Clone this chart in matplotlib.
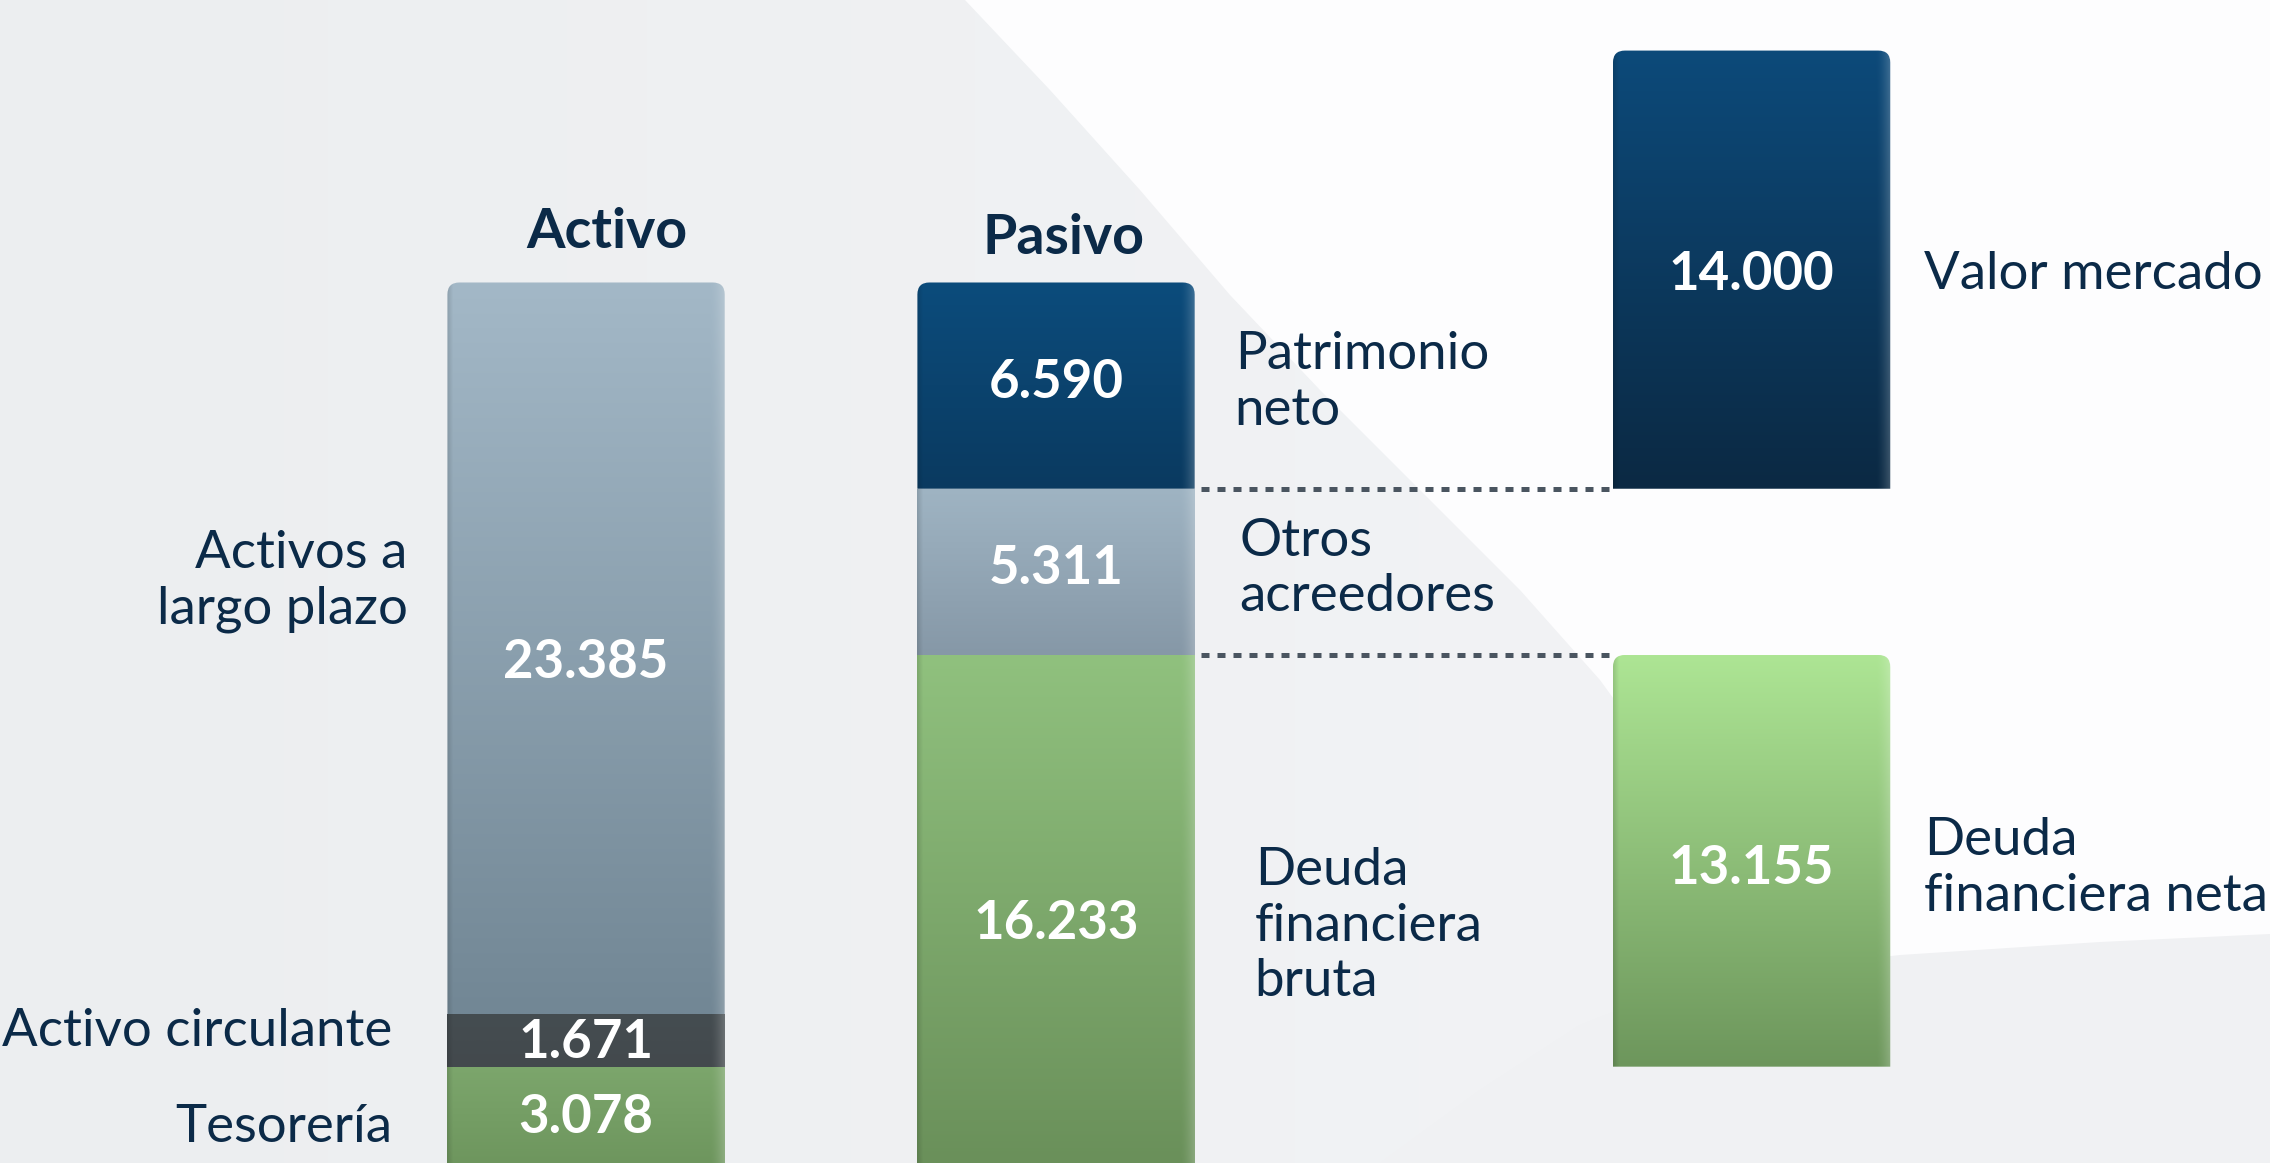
import numpy as np
import matplotlib.pyplot as plt
from matplotlib.path import Path
from matplotlib.patches import PathPatch, Polygon
from matplotlib.colors import to_rgb

plt.rcParams['font.family'] = ['Lato', 'DejaVu Sans']

# datos (millones de euros)
titulos = ['Activo', 'Pasivo']
activo_nombres = ['Tesorería', 'Activo circulante', 'Activos a\nlargo plazo']
activo_valores = [3.078, 1.671, 23.385]
pasivo_nombres = ['Deuda\nfinanciera\nbruta', 'Otros\nacreedores', 'Patrimonio\nneto']
pasivo_valores = [16.233, 5.311, 6.590]
valor_mercado = 14.000
deuda_neta = 13.155
nombre_vm = 'Valor mercado'
nombre_dn = 'Deuda\nfinanciera neta'

# colores (arriba, abajo)
col_activo = [('#7ca66c', '#6e965e'), ('#454d51', '#43494d'), ('#a3b8c7', '#728795')]
col_pasivo = [('#90c17e', '#6a905a'), ('#9fb4c3', '#8698a7'), ('#0c4c7c', '#0a3a60')]
col_vm = ('#0d4a7a', '#0b2943')
col_dn = ('#ade594', '#6d965c')

W, H = 2270, 1163
navy = '#0b2a48'
pos = [0, 1, 2.48]
ancho = 0.59
fs_lab = 38

fig = plt.figure(figsize=(W / 100, H / 100), dpi=100)

# fondo
bg = fig.add_axes([0, 0, 1, 1])
bg.axis('off')
t = np.linspace(0, 1, 256)
c0, c1 = np.array(to_rgb('#eceef0')), np.array(to_rgb('#f4f5f7'))
bg.imshow(c0 + (c1 - c0) * t[None, :, None], extent=(0, W, H, 0), aspect='auto')
blanco = [(965, 0), (1050, 90), (1140, 190), (1230, 295), (1320, 390), (1420, 490),
          (1520, 590), (1600, 680), (1680, 790), (1760, 920), (1840, 1060), (1900, H),
          (W, H), (W, 0)]
bg.add_patch(Polygon(blanco, closed=True, facecolor='#fdfdfe', edgecolor='none'))
gris = [(1380, H), (1480, 1090), (1580, 1025), (1700, 978), (1900, 955), (2100, 942),
        (W, 934), (W, H)]
bg.add_patch(Polygon(gris, closed=True, facecolor='#f0f1f3', edgecolor='none'))
bg.set_xlim(0, W)
bg.set_ylim(H, 0)

ax = fig.add_axes([0, 0, 1, 1])
ax.patch.set_alpha(0)
ax.axis('off')
xlim = (-1.247, 3.583)
ylim = (0, 37.16)
px_x = W / (xlim[1] - xlim[0])
px_y = H / (ylim[1] - ylim[0])


def degradado(arriba, abajo):
    a, b = np.array(to_rgb(arriba)), np.array(to_rgb(abajo))
    v = np.linspace(0, 1, 200)[:, None, None]
    img = a + (b - a) * v
    u = np.linspace(0, 1, 200)[None, :, None]
    luz = np.clip((u - 0.95) / 0.05, 0, 1) ** 1.5 * 0.2
    sombra = np.clip((0.02 - u) / 0.02, 0, 1) * 0.12
    img = img + (1 - img) * luz - img * sombra
    return np.clip(img, 0, 1)


def pinta(rect, colores, redondo):
    x0, y0 = rect.get_x(), rect.get_y()
    w, h = rect.get_width(), rect.get_height()
    rx, ry = 12 / px_x, 12 / px_y
    if redondo:
        verts = [(x0, y0), (x0, y0 + h - ry), (x0, y0 + h), (x0 + rx, y0 + h),
                 (x0 + w - rx, y0 + h), (x0 + w, y0 + h), (x0 + w, y0 + h - ry),
                 (x0 + w, y0), (x0, y0)]
        codes = [Path.MOVETO, Path.LINETO, Path.CURVE3, Path.CURVE3, Path.LINETO,
                 Path.CURVE3, Path.CURVE3, Path.LINETO, Path.CLOSEPOLY]
    else:
        verts = [(x0, y0), (x0, y0 + h), (x0 + w, y0 + h), (x0 + w, y0), (x0, y0)]
        codes = [Path.MOVETO, Path.LINETO, Path.LINETO, Path.LINETO, Path.CLOSEPOLY]
    patch = PathPatch(Path(verts, codes), facecolor='none', edgecolor='none')
    ax.add_patch(patch)
    im = ax.imshow(degradado(*colores), extent=(x0, x0 + w, y0, y0 + h),
                   aspect='auto', zorder=2, interpolation='bilinear')
    im.set_clip_path(patch)


def etiqueta_valor(x, y, v, dy=0):
    ax.text(x, y + dy, f'{v:.3f}', ha='center', va='center', color='white',
            fontsize=38, fontweight='bold', zorder=5)


def etiqueta(x, y, s, ha):
    ax.text(x, y, s, ha=ha, va='center', color=navy, fontsize=fs_lab,
            linespacing=1.22, zorder=5)


# Activo
base = np.concatenate([[0], np.cumsum(activo_valores)[:-1]])
barras = ax.bar([pos[0]] * 3, activo_valores, ancho, bottom=base, color='none')
for i, r in enumerate(barras):
    pinta(r, col_activo[i], i == 2)
    mid = base[i] + activo_valores[i] / 2
    etiqueta_valor(pos[0], mid, activo_valores[i], [-0.1, -0.05, -0.45][i])
dy_act = [-0.4, 0.3, 2.15]
for i, n in enumerate(activo_nombres):
    mid = base[i] + activo_valores[i] / 2
    xe = pos[0] - ancho / 2 - (40 if i == 2 else 55) / px_x
    etiqueta(xe, mid + dy_act[i], n, 'right')

# Pasivo
base_p = np.concatenate([[0], np.cumsum(pasivo_valores)[:-1]])
barras = ax.bar([pos[1]] * 3, pasivo_valores, ancho, bottom=base_p, color='none')
for i, r in enumerate(barras):
    pinta(r, col_pasivo[i], i == 2)
    mid = base_p[i] + pasivo_valores[i] / 2
    etiqueta_valor(pos[1], mid, pasivo_valores[i], [-0.48, 0.1, 0.1][i])
dx_pas = [60, 45, 40]
dy_pas = [-0.55, 0.1, 0.1]
for i, n in enumerate(pasivo_nombres):
    mid = base_p[i] + pasivo_valores[i] / 2
    etiqueta(pos[1] + ancho / 2 + dx_pas[i] / px_x, mid + dy_pas[i], n, 'left')

# titulos
for x, tt, tot, dx, dy in zip(pos[:2], titulos,
                              [sum(activo_valores), sum(pasivo_valores)],
                              [21, 7], [1.1, 0.9]):
    ax.text(x + dx / px_x, tot + dy, tt, ha='center', va='baseline', color=navy,
            fontsize=40, fontweight='bold', zorder=5)

# valor de mercado y deuda neta
y_vm = pasivo_valores[0] + pasivo_valores[1]
r_vm = ax.bar(pos[2], valor_mercado, ancho, bottom=y_vm, color='none')[0]
pinta(r_vm, col_vm, True)
etiqueta_valor(pos[2], y_vm + valor_mercado / 2, valor_mercado, -0.17)
y_dn = activo_valores[0]
r_dn = ax.bar(pos[2], deuda_neta, ancho, bottom=y_dn, color='none')[0]
pinta(r_dn, col_dn, True)
etiqueta_valor(pos[2], y_dn + deuda_neta / 2, deuda_neta, -0.24)

xt = pos[2] + ancho / 2 + 34 / px_x
etiqueta(xt, y_vm + valor_mercado / 2 - 0.17, nombre_vm, 'left')
etiqueta(xt, y_dn + deuda_neta / 2 - 0.24, nombre_dn, 'left')

# lineas punteadas
for y in [y_vm, pasivo_valores[0]]:
    ax.plot([pos[1] + ancho / 2 + 6 / px_x, pos[2] - ancho / 2 - 4 / px_x], [y, y],
            color='#4a5560', lw=3.6, dashes=(1.6, 1.6), solid_capstyle='butt',
            dash_capstyle='butt', zorder=1)

ax.set_xlim(*xlim)
ax.set_ylim(*ylim)

fig.savefig('out.png', dpi=100)
